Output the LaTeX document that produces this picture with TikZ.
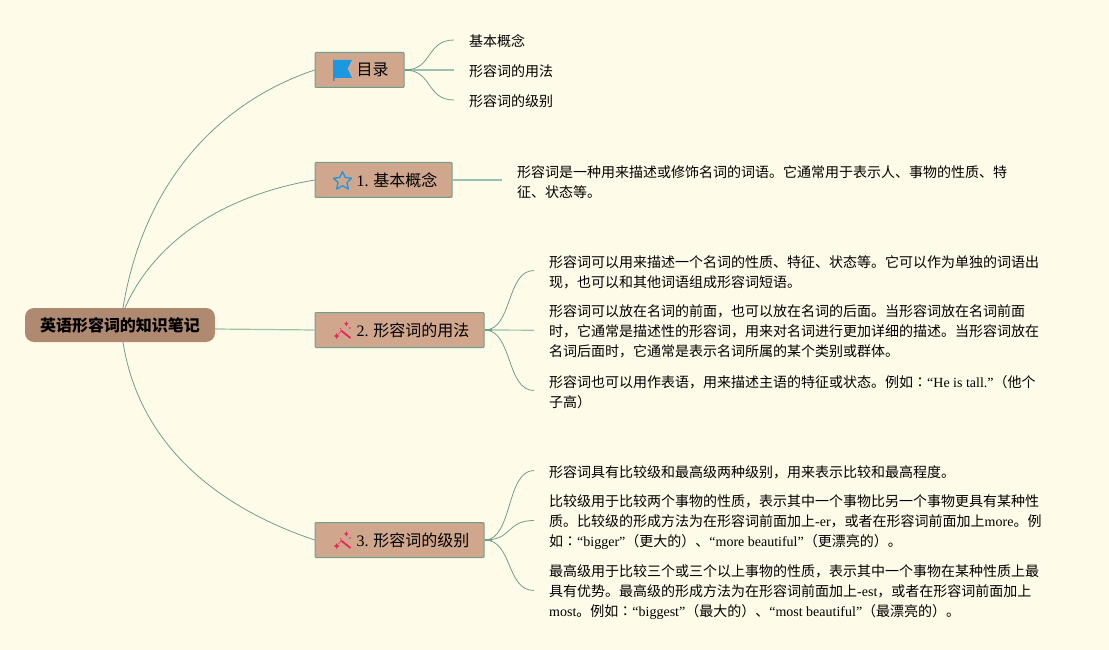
\documentclass[tikz,border=0pt]{standalone}
\usepackage{fontspec}
\setmainfont{Noto Sans CJK SC}
\newfontfamily\latf{Liberation Serif}
\newfontfamily\tcf{Noto Sans CJK TC}
\newcommand{\lat}[1]{{\latf #1}}
\newcommand{\colonc}{{\tcf ：}}
\definecolor{bgc}{HTML}{FFFBE9}
\definecolor{rootc}{HTML}{B08A70}
\definecolor{topicc}{HTML}{D0A68C}
\definecolor{edgec}{HTML}{6F9F8E}
\definecolor{lightedge}{HTML}{9CC0AF}
\definecolor{iconblue}{HTML}{1B98E0}
\definecolor{iconred}{HTML}{E8265E}
\tikzset{
  x=1pt,y=-1pt,
  rootbox/.style={draw=none,fill=rootc,rounded corners=9pt,minimum width=190pt,minimum height=34pt,inner sep=0pt,font=\fontsize{16}{20}\selectfont\bfseries,text=black},
  topicbox/.style={draw=edgec,line width=1pt,fill=topicc,rounded corners=1pt,minimum height=35pt,inner sep=0pt,anchor=west,font=\fontsize{16}{20}\selectfont,text=black},
  leaf/.style={anchor=west,inner xsep=15pt,inner ysep=0pt,align=left,font=\fontsize{14}{20}\selectfont,text=black},
  curve/.style={draw=edgec,line width=0.8pt},
  straight/.style={draw=lightedge,line width=1.2pt},
  stub/.style={draw=edgec,line width=1.6pt}
}
\newcommand{\labelat}[2]{\makebox[#1pt][l]{\hspace{41.5pt}\raisebox{-2pt}{#2}}}
\newcommand{\wand}[2]{%
  \begin{scope}[shift={(#1,#2)}]
    \draw[iconred,line width=1.8pt] (-2.3,-0.8) -- (7.5,7);
    \draw[iconred!70!topicc,line width=0.8pt] (-4.5,3) -- (-1,-1);
    \fill[iconred] (-6.3,2) -- (-5.3,4) -- (-3.5,5) -- (-5.3,6) -- (-6.3,8) -- (-7.3,6) -- (-9.2,5) -- (-7.3,4) -- cycle;
    \fill[iconred] (3.3,-10) -- (4,-8) -- (5.6,-7.2) -- (4,-6.4) -- (3.3,-4.4) -- (2.6,-6.4) -- (1,-7.2) -- (2.6,-8) -- cycle;
    \fill[iconred] (7,-3) circle (0.8pt);
    \fill[iconred] (-2.5,-2.5) circle (0.6pt);
  \end{scope}}
\begin{document}
\begin{tikzpicture}
\useasboundingbox[fill=bgc] (0,0) rectangle (1109,650);
\node[rootbox] (root) at (120,325) {\raisebox{-2pt}{英语形容词的知识笔记}};
\node[topicbox,minimum width=89pt] (t0) at (314.7,70) {\labelat{89}{目录}};
\node[topicbox,minimum width=137pt] (t1) at (314.7,180) {\labelat{137}{\lat{1.} 基本概念}};
\node[topicbox,minimum width=169pt] (t2) at (314.7,330) {\labelat{169}{\lat{2.} 形容词的用法}};
\node[topicbox,minimum width=169pt] (t3) at (314.7,540) {\labelat{169}{\lat{3.} 形容词的级别}};

\node[leaf] (a1) at (454,41.5) {基本概念};
\node[leaf] (a2) at (454,71.5) {形容词的用法};
\node[leaf] (a3) at (454,101.5) {形容词的级别};

\node[leaf] (b1) at (502,182) {形容词是一种用来描述或修饰名词的词语。它通常用于表示人、事物的性质、特\\征、状态等。};

\node[leaf] (c1) at (534,272) {形容词可以用来描述一个名词的性质、特征、状态等。它可以作为单独的词语出\\现，也可以和其他词语组成形容词短语。};
\node[leaf] (c2) at (534,331.7) {形容词可以放在名词的前面，也可以放在名词的后面。当形容词放在名词前面\\时，它通常是描述性的形容词，用来对名词进行更加详细的描述。当形容词放在\\名词后面时，它通常是表示名词所属的某个类别或群体。};
\node[leaf] (c3) at (534,392) {形容词也可以用作表语，用来描述主语的特征或状态。例如\colonc\lat{“He is tall.”}（他个\\子高）};

\node[leaf] (d1) at (534,472) {形容词具有比较级和最高级两种级别，用来表示比较和最高程度。};
\node[leaf] (d2) at (534,522) {比较级用于比较两个事物的性质，表示其中一个事物比另一个事物更具有某种性\\质。比较级的形成方法为在形容词前面加上\lat{-er}，或者在形容词前面加上\lat{more}。例\\如\colonc\lat{“bigger”}（更大的）、\lat{“more beautiful”}（更漂亮的）。};
\node[leaf] (d3) at (534,592) {最高级用于比较三个或三个以上事物的性质，表示其中一个事物在某种性质上最\\具有优势。最高级的形成方法为在形容词前面加上\lat{-est}，或者在形容词前面加上\\\lat{most}。例如\colonc\lat{“biggest”}（最大的）、\lat{“most beautiful”}（最漂亮的）。};

% root connectors
\draw[curve] ([xshift=3pt]root.north) .. controls (145,175) and (225,100) .. (t0.west);
\draw[curve] ([xshift=5pt]root.north) .. controls (155,240) and (225,195) .. (t1.west);
\draw[straight] (root.east) ++(0,4) -- (t2.west);
\draw[curve] ([xshift=3pt]root.south) .. controls (140,450) and (225,510) .. (t3.west);

% branch connectors
\foreach \s/\e in {t0/a1,t0/a3}{
  \draw[curve] (\s.east) .. controls +(28,0) and ([xshift=-28pt,yshift=1.5pt]\e.west) .. ([yshift=1.5pt]\e.west);}
\draw[straight] (t0.east) -- ([yshift=1.5pt]a2.west);
\draw[straight] (t1.east) -- ([yshift=2pt]b1.west);
\foreach \s/\e in {t2/c1,t2/c3,t3/d1,t3/d2,t3/d3}{
  \draw[curve] (\s.east) .. controls +(28,0) and ([xshift=-28pt,yshift=1.5pt]\e.west) .. ([yshift=1.5pt]\e.west);}
\draw[straight] (t2.east) -- ([yshift=1.5pt]c2.west);
\foreach \s in {t0,t2,t3}{\draw[stub] (\s.east) -- ++(7,0);}

% icons
\fill[iconblue] (333,60) -- (352,60) -- (347.5,68.5) -- (352,78) -- (334.5,78) -- (334.5,81) -- (333,81) -- cycle;
\draw[iconblue,line width=1.3pt,line join=round]
  (342.5,171.5) -- (345.2,177.5) -- (351.5,178.2) -- (347,182.5) -- (348.3,189) -- (342.5,185.7) -- (336.7,189) -- (338,182.5) -- (333.5,178.2) -- (339.8,177.5) -- cycle;
\wand{343}{331}
\wand{343}{541}
\end{tikzpicture}
\end{document}
